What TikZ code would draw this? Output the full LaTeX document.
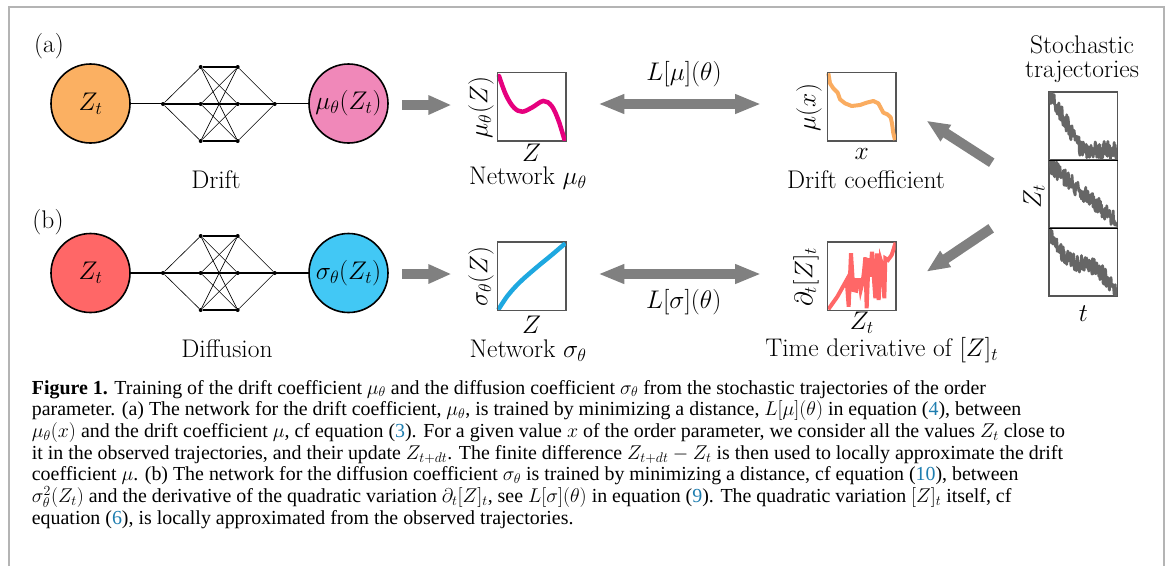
\RequirePackage{fix-cm}
\documentclass[tikz,border=0pt]{standalone}
\usepackage{fontspec}
\usetikzlibrary{arrows.meta,calc}
\newfontfamily\capfont{Liberation Serif}
\definecolor{framegray}{RGB}{180,180,180}
\definecolor{arrowgray}{RGB}{128,128,128}
\definecolor{trajgray}{RGB}{102,102,102}
\definecolor{boxgray}{RGB}{85,85,85}
\definecolor{corange}{RGB}{251,176,98}
\definecolor{cpink}{RGB}{240,136,185}
\definecolor{cred}{RGB}{255,103,103}
\definecolor{ccyan}{RGB}{66,200,245}
\definecolor{cmagenta}{RGB}{230,0,126}
\definecolor{cblue}{RGB}{30,168,224}
\definecolor{corangeline}{RGB}{250,172,96}
\definecolor{refblue}{RGB}{30,125,175}
\tikzset{
  bignode/.style={circle,draw=black,line width=1.6pt,minimum size=79pt,inner sep=0pt},
  dot/.style={circle,fill=black,inner sep=0pt,minimum size=4pt},
  edge/.style={line width=0.6pt},
  thickedge/.style={line width=1.6pt},
  plotbox/.style={draw=boxgray,line width=1.1pt,minimum size=68pt,inner sep=0pt},
  bigarrow/.style={draw=arrowgray,line width=10pt,-{Triangle[length=23pt,width=18pt,fill=arrowgray]}},
  dblarrow/.style={draw=arrowgray,line width=10pt,{Triangle[length=26pt,width=18pt,fill=arrowgray]}-{Triangle[length=26pt,width=18pt,fill=arrowgray]}},
  capline/.style={anchor=base west,inner sep=0pt,font=\capfont\fontsize{19.9}{22}\selectfont},
  lbl/.style={inner sep=0pt}
}
\newcommand{\rb}[1]{\textcolor{refblue}{#1}}
\newcommand{\drawnet}[4]{%
  \node[dot] (#1in) at (163,#3) {};
  \node[dot] (#1out) at (274.7,#3) {};
  \node[dot] (#1p1) at (200.7,#2) {};
  \node[dot] (#1p2) at (200.7,#3) {};
  \node[dot] (#1p3) at (200.7,#4) {};
  \node[dot] (#1q1) at (237.7,#2) {};
  \node[dot] (#1q2) at (237.7,#3) {};
  \node[dot] (#1q3) at (237.7,#4) {};
  \foreach \k in {1,2,3}{%
    \draw[edge] (#1in) -- (#1p\k);
    \draw[edge] (#1q\k) -- (#1out);
    \foreach \m in {1,2,3}{\draw[edge] (#1p\k) -- (#1q\m);}
  }
  \draw[thickedge] (#1p1) -- (#1q1);
  \draw[thickedge] (#1p3) -- (#1q3);
}
\begin{document}
\begin{tikzpicture}[x=1pt,y=-1pt,font=\fontsize{25.5}{30}\selectfont]
\useasboundingbox (0,0) rectangle (1171,566);
% frame
\draw[framegray,line width=2pt] (9,566) -- (9,7) -- (1164,7) -- (1164,566);

% ---------- row (a)
\node[lbl] (lab-a) at (49,46) {(a)};
\node[bignode,fill=corange] (za) at (90.5,103.5) {$Z_t$};
\node[bignode,fill=cpink] (mua) at (348.5,103.5) {$\mu_\theta(Z_t)$};
\draw[thickedge] (za) -- (mua);
\drawnet{a}{67}{104}{141}
\node[lbl] (drift) at (216,180) {Drift};

% ---------- row (b)
\node[lbl] (lab-b) at (48,222) {(b)};
\node[bignode,fill=cred] (zb) at (90.5,273) {$Z_t$};
\node[bignode,fill=ccyan] (sigb) at (348.5,273) {$\sigma_\theta(Z_t)$};
\draw[thickedge] (zb) -- (sigb);
\drawnet{b}{236}{273}{310}
\node[lbl] (diff) at (227,349) {Diffusion};

% ---------- network plot mu
\node[plotbox] (pmu) at (531.7,106.7) {};
\begin{scope}[shift={(380,50)},x=0.33333pt,y=-0.33333pt]
  \draw[cmagenta,line width=4.5pt,line cap=round] plot[smooth,tension=0.6] coordinates {(357,78) (378,135) (402,173) (427,185) (457,172) (490,153) (515,168) (535,210) (553,268)};
\end{scope}
\draw[boxgray,line width=1.1pt] (pmu.north west) rectangle (pmu.south east);
\node[lbl,rotate=90] (pmu-y) at (481,107.5) {$\mu_\theta(Z)$};
\node[lbl] (pmu-x) at (531.7,152.5) {$Z$};
\node[lbl] (pmu-t) at (528,178) {Network $\mu_\theta$};

% ---------- network plot sigma
\node[plotbox] (psig) at (531.7,276.3) {};
\begin{scope}[shift={(380,200)},x=0.33333pt,y=-0.33333pt]
  \draw[cblue,line width=4.5pt] plot[smooth,tension=0.6] coordinates {(355,329) (383,287) (420,246) (470,202) (515,165) (556,130)};
\end{scope}
\draw[boxgray,line width=1.1pt] (psig.north west) rectangle (psig.south east);
\node[lbl,rotate=90] (psig-y) at (481,276.7) {$\sigma_\theta(Z)$};
\node[lbl] (psig-x) at (531.7,324.5) {$Z$};
\node[lbl] (psig-t) at (528,350.5) {Network $\sigma_\theta$};

% ---------- drift coefficient plot
\node[plotbox] (pdr) at (861.7,106.7) {};
\begin{scope}[shift={(750,20)},x=0.33333pt,y=-0.33333pt]
  \draw[corangeline,line width=4pt,line join=round] plot coordinates {(235,160) (240,190) (250,205) (263,218) (270,238) (285,250) (305,258) (330,255) (350,248) (370,243) (385,250) (393,265) (400,278) (412,283) (422,292) (426,310) (430,340) (435,360)};
\end{scope}
\draw[boxgray,line width=1.1pt] (pdr.north west) rectangle (pdr.south east);
\node[lbl,rotate=90] (pdr-y) at (809,107.5) {$\mu(x)$};
\node[lbl] (pdr-x) at (861.7,154) {$x$};
\node[lbl] (pdr-t) at (866,179.5) {Drift coefficient};

% ---------- time derivative plot
\node[plotbox] (pqv) at (861.7,276.3) {};
\begin{scope}[shift={(750,200)},x=0.33333pt,y=-0.33333pt]
  \clip (233,128) rectangle (437,330);
  \draw[cred,line width=4pt,line join=miter] plot coordinates {(235,328) (262,290) (290,240) (296,320) (303,160) (310,270) (318,272) (320,240) (328,240) (332,270) (338,245) (342,215) (346,172) (350,325) (356,175) (360,230) (366,155) (372,240) (376,295) (381,160) (386,300) (392,180) (398,200) (403,295) (406,175) (414,180) (425,165) (437,128)};
\end{scope}
\draw[boxgray,line width=1.1pt] (pqv.north west) rectangle (pqv.south east);
\node[lbl,rotate=90] (pqv-y) at (806,277) {$\partial_t[Z]_t$};
\node[lbl] (pqv-x) at (861.7,322.5) {$Z_t$};
\node[lbl] (pqv-t) at (881.7,350) {Time derivative of $[Z]_t$};

% ---------- trajectories
\node[lbl,align=center,font=\fontsize{25.5}{23.5}\selectfont] (st) at (1082,59.2) {Stochastic\\trajectories};
\node[plotbox,minimum width=68pt,minimum height=68pt] (tr1) at (1083.3,126) {};
\node[plotbox,minimum width=68pt,minimum height=68pt] (tr2) at (1083.3,194) {};
\node[plotbox,minimum width=68pt,minimum height=68pt] (tr3) at (1083.3,262) {};
\pgfmathsetseed{7}
\begin{scope}[shift={(1020,80)},x=0.33333pt,y=-0.33333pt]
  \begin{scope}
    \clip (88,35) rectangle (292,238);
    \draw[trajgray,line width=2.8pt,line join=round] plot[domain=88:292,samples=130] ({\x},{min(40+(\x-90)*1.8,210)+26*rand});
  \end{scope}
  \begin{scope}
    \clip (88,238) rectangle (292,444);
    \draw[trajgray,line width=2.8pt,line join=round] plot[domain=88:292,samples=130] ({\x},{255+(\x-90)*0.85+26*rand});
  \end{scope}
  \begin{scope}
    \clip (88,444) rectangle (292,650);
    \draw[trajgray,line width=2.8pt,line join=round] plot[domain=88:292,samples=130] ({\x},{465+(\x-90)*0.88+22*sin((\x-90)*1.8)+26*rand});
  \end{scope}
\end{scope}
\draw[boxgray,line width=1.1pt] (tr1.north west) rectangle (tr3.south east);
\draw[black,line width=1.4pt] (tr1.south west) -- (tr1.south east);
\draw[black,line width=1.4pt] (tr2.south west) -- (tr2.south east);
\node[lbl,rotate=90] (tr-y) at (1034,197) {$Z_t$};
\node[lbl] (tr-x) at (1083.3,314) {$t$};

% ---------- arrows
\draw[bigarrow] ($(mua.east)+(13.5,1.5)$) -- ($(pmu.west)+(-45.7,-1.7)$);
\draw[bigarrow] ($(sigb.east)+(13.5,1)$) -- ($(psig.west)+(-45.7,-2.3)$);
\draw[dblarrow] ($(pmu.east)+(32,-2.7)$) -- ($(pdr.west)+(-66,-2.7)$);
\draw[dblarrow] ($(psig.east)+(32,-2.3)$) -- ($(pqv.west)+(-66,-2.3)$);
\node[lbl] (lmu) at (684,74) {$L[\mu](\theta)$};
\node[lbl] (lsig) at (683.7,302.5) {$L[\sigma](\theta)$};
\draw[bigarrow] ($(tr1.west)+(-57,36.7)$) -- ($(pdr.east)+(30.3,14)$);
\draw[bigarrow] ($(tr2.west)+(-57.6,34.3)$) -- ($(pqv.east)+(30.3,-4.6)$);

% ---------- caption
\node[capline] (c1) at (31.7,394) {\textbf{Figure 1.} Training of the drift coefficient $\mu_\theta$ and the diffusion coefficient $\sigma_\theta$ from the stochastic trajectories of the order};
\node[capline] (c2) at (31.7,415.7) {parameter. (a) The network for the drift coefficient, $\mu_\theta$, is trained by minimizing a distance, $L[\mu](\theta)$ in equation (\rb{4}), between};
\node[capline] (c3) at (31.7,437.4) {$\mu_\theta(x)$ and the drift coefficient $\mu$, cf equation (\rb{3}). For a given value $x$ of the order parameter, we consider all the values $Z_t$ close to};
\node[capline] (c4) at (31.7,459.1) {it in the observed trajectories, and their update $Z_{t+dt}$. The finite difference $Z_{t+dt}-Z_t$ is then used to locally approximate the drift};
\node[capline] (c5) at (31.7,480.8) {coefficient $\mu$. (b) The network for the diffusion coefficient $\sigma_\theta$ is trained by minimizing a distance, cf equation (\rb{10}), between};
\node[capline] (c6) at (31.7,502.5) {$\sigma^2_\theta(Z_t)$ and the derivative of the quadratic variation $\partial_t[Z]_t$, see $L[\sigma](\theta)$ in equation (\rb{9}). The quadratic variation $[Z]_t$ itself, cf};
\node[capline] (c7) at (31.7,524.2) {equation (\rb{6}), is locally approximated from the observed trajectories.};
\end{tikzpicture}
\end{document}
